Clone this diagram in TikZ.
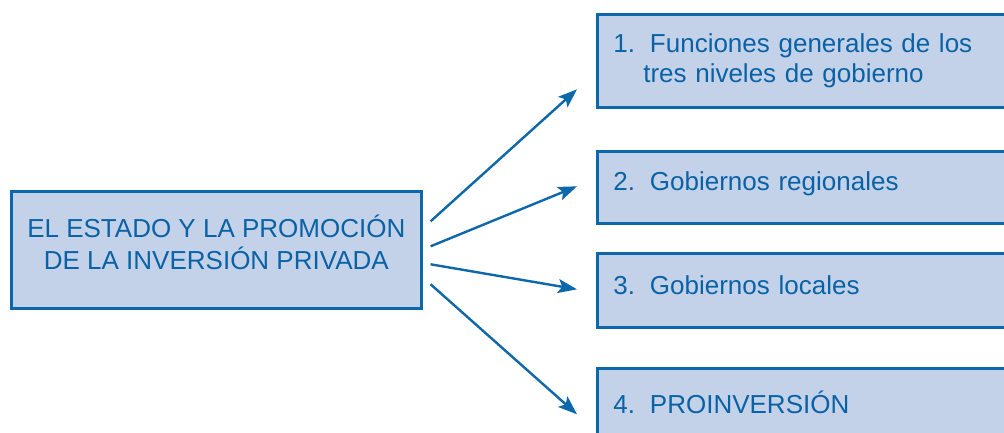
\documentclass[tikz,border=0pt]{standalone}
\usepackage{fontspec}
\setmainfont{Liberation Sans}
\usetikzlibrary{arrows.meta}
\definecolor{bord}{RGB}{12,104,170}
\definecolor{boxfill}{RGB}{196,210,233}
\definecolor{txt}{RGB}{10,98,166}
\tikzset{
  mainbox/.style={draw=bord, line width=2.6pt, fill=boxfill, text=txt, font=\fontsize{26}{32}\selectfont, align=center, minimum width=410pt, minimum height=117pt, inner sep=0pt},
  itembox/.style={draw=bord, line width=2.6pt, fill=boxfill, text=txt, font=\fontsize{26}{30}\selectfont, align=left, text width=382pt, inner xsep=16pt, inner ysep=0pt, anchor=north west},
  arr/.style={draw=bord, line width=2.4pt, -{Stealth[length=19pt,width=14pt,inset=4pt]}}
}
\begin{document}
\begin{tikzpicture}[x=1pt,y=-1pt]
\useasboundingbox (0,0) rectangle (1004,432);
\clip (0,0) rectangle (1004,432);
\node[mainbox, anchor=north west, text depth=16pt] (L) at (10,190) {EL ESTADO Y LA PROMOCIÓN\\DE LA INVERSIÓN PRIVADA};
\node[itembox, minimum height=93pt] (B1) at (596,13) {1.\hspace{15pt}Funciones generales de los\\\hspace*{30pt}tres niveles de gobierno};
\node[itembox, minimum height=72pt, text depth=11.5pt] (B2) at (596,150) {2.\hspace{15pt}Gobiernos regionales};
\node[itembox, minimum height=74pt, text depth=10.5pt] (B3) at (596,252) {3.\hspace{15pt}Gobiernos locales};
\node[itembox, minimum height=74pt, text depth=6pt] (B4) at (596,367) {4.\hspace{15pt}PROINVERSIÓN};
\draw[arr] ([shift={(8,-28.5)}]L.east) -- ([shift={(-19,28.5)}]B1.west);
\draw[arr] ([shift={(8,-3.5)}]L.east) -- ([shift={(-19,-1)}]B2.west);
\draw[arr] ([shift={(8,14.5)}]L.east) -- ([shift={(-19,-1)}]B3.west);
\draw[arr] ([shift={(8,34.5)}]L.east) -- ([shift={(-19,9)}]B4.west);
\end{tikzpicture}
\end{document}
